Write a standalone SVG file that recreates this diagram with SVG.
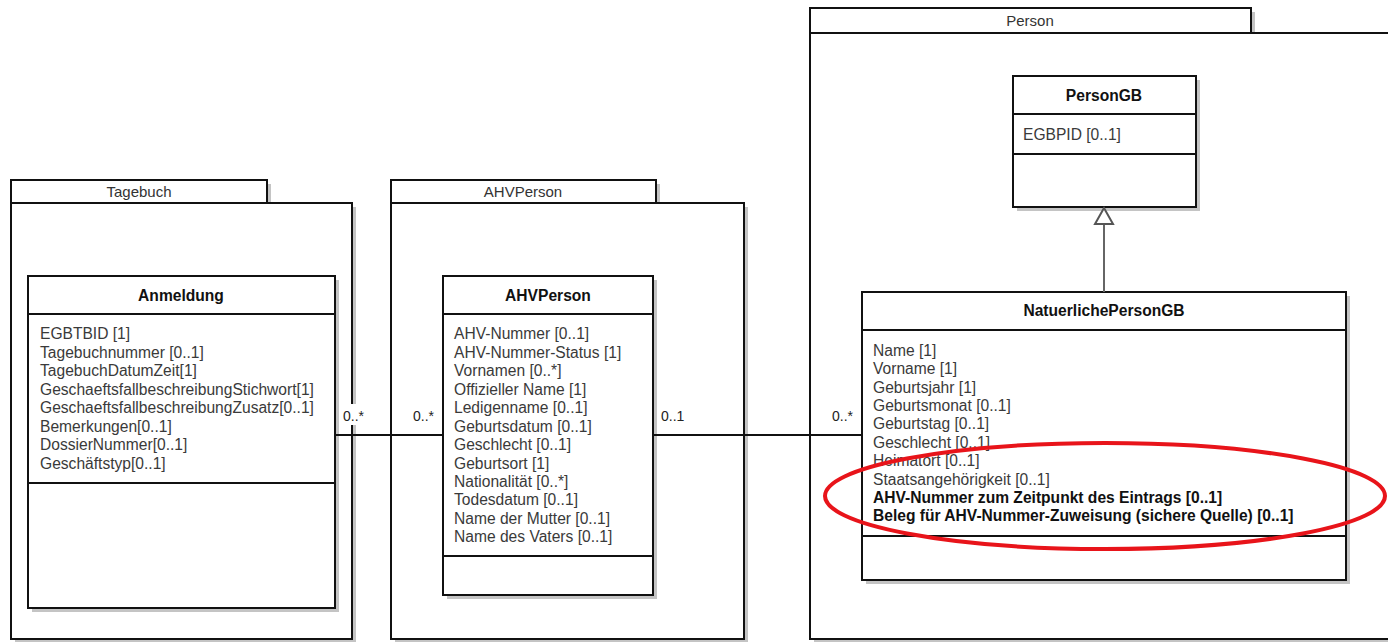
<svg xmlns="http://www.w3.org/2000/svg" width="1388" height="642" viewBox="0 0 1388 642">
<defs>
<style>
.sh{fill:#c4c4c4;stroke:none}
.box{fill:#fff;stroke:#111;stroke-width:2}
.ln{stroke:#111;stroke-width:2;fill:none}
.t{font-family:"Liberation Sans",Arial,sans-serif;font-size:15.6px;fill:#3a3a3a}
.b{font-family:"Liberation Sans",Arial,sans-serif;font-size:15.6px;font-weight:bold;fill:#111}
.pk{font-family:"Liberation Sans",Arial,sans-serif;font-size:15px;fill:#333;text-anchor:middle}
.hd{font-family:"Liberation Sans",Arial,sans-serif;font-size:15.6px;font-weight:bold;fill:#111;text-anchor:middle}
.m{font-family:"Liberation Sans",Arial,sans-serif;font-size:14px;fill:#222}
</style>
</defs>
<rect width="1388" height="642" fill="#fff"/>

<g id="pkg-tagebuch">
<rect class="sh" x="15" y="184" width="256" height="23"/>
<rect class="sh" x="15" y="207" width="341" height="436"/>
<rect class="box" x="11" y="180" width="256" height="23"/>
<rect class="box" x="11" y="203" width="341" height="436"/>
<text class="pk" x="139" y="197">Tagebuch</text>
</g>

<g id="pkg-ahvperson">
<rect class="sh" x="395" y="184" width="265" height="23"/>
<rect class="sh" x="395" y="207" width="353" height="436"/>
<rect class="box" x="391" y="180" width="265" height="23"/>
<rect class="box" x="391" y="203" width="353" height="436"/>
<text class="pk" x="523" y="197">AHVPerson</text>
</g>

<g id="pkg-person">
<rect class="sh" x="814" y="12" width="441" height="25"/>
<rect class="sh" x="814" y="37" width="590" height="606"/>
<rect class="box" x="810" y="8" width="441" height="25"/>
<rect class="box" x="810" y="33" width="590" height="606"/>
<text class="pk" x="1030" y="26">Person</text>
</g>

<g id="class-anmeldung">
<rect class="sh" x="32" y="280" width="307" height="332"/>
<rect class="box" x="28" y="276" width="307" height="332"/>
<line class="ln" x1="28" y1="314" x2="335" y2="314"/>
<line class="ln" x1="28" y1="483" x2="335" y2="483"/>
<text class="hd" x="181" y="301">Anmeldung</text>
<text class="t" x="40" y="339">EGBTBID [1]</text>
<text class="t" x="40" y="358">Tagebuchnummer [0..1]</text>
<text class="t" x="40" y="376">TagebuchDatumZeit[1]</text>
<text class="t" x="40" y="395">GeschaeftsfallbeschreibungStichwort[1]</text>
<text class="t" x="40" y="413">GeschaeftsfallbeschreibungZusatz[0..1]</text>
<text class="t" x="40" y="432">Bemerkungen[0..1]</text>
<text class="t" x="40" y="450">DossierNummer[0..1]</text>
<text class="t" x="40" y="469">Geschäftstyp[0..1]</text>
</g>

<g id="class-ahvperson">
<rect class="sh" x="447" y="280" width="210" height="319"/>
<rect class="box" x="443" y="276" width="210" height="319"/>
<line class="ln" x1="443" y1="314" x2="653" y2="314"/>
<line class="ln" x1="443" y1="556" x2="653" y2="556"/>
<text class="hd" x="548" y="301">AHVPerson</text>
<text class="t" x="454" y="339">AHV-Nummer [0..1]</text>
<text class="t" x="454" y="358">AHV-Nummer-Status [1]</text>
<text class="t" x="454" y="376">Vornamen [0..*]</text>
<text class="t" x="454" y="395">Offizieller Name [1]</text>
<text class="t" x="454" y="413">Ledigenname [0..1]</text>
<text class="t" x="454" y="432">Geburtsdatum [0..1]</text>
<text class="t" x="454" y="450">Geschlecht [0..1]</text>
<text class="t" x="454" y="469">Geburtsort [1]</text>
<text class="t" x="454" y="487">Nationalität [0..*]</text>
<text class="t" x="454" y="505">Todesdatum [0..1]</text>
<text class="t" x="454" y="524">Name der Mutter [0..1]</text>
<text class="t" x="454" y="542">Name des Vaters [0..1]</text>
</g>

<g id="class-persongb">
<rect class="sh" x="1017" y="80" width="183" height="131"/>
<rect class="box" x="1013" y="76" width="183" height="131"/>
<line class="ln" x1="1013" y1="114" x2="1196" y2="114"/>
<line class="ln" x1="1013" y1="154" x2="1196" y2="154"/>
<text class="hd" x="1104" y="101">PersonGB</text>
<text class="t" x="1023" y="140">EGBPID [0..1]</text>
</g>

<g id="class-natuerlichepersongb">
<rect class="sh" x="866" y="296" width="484" height="288"/>
<rect class="box" x="862" y="292" width="484" height="288"/>
<line class="ln" x1="862" y1="330" x2="1346" y2="330"/>
<line class="ln" x1="862" y1="536" x2="1346" y2="536"/>
<text class="hd" x="1104" y="316">NatuerlichePersonGB</text>
<text class="t" x="873" y="356">Name [1]</text>
<text class="t" x="873" y="374">Vorname [1]</text>
<text class="t" x="873" y="393">Geburtsjahr [1]</text>
<text class="t" x="873" y="411">Geburtsmonat [0..1]</text>
<text class="t" x="873" y="429">Geburtstag [0..1]</text>
<text class="t" x="873" y="448">Geschlecht [0..1]</text>
<text class="t" x="873" y="466">Heimatort [0..1]</text>
<text class="t" x="873" y="485">Staatsangehörigkeit [0..1]</text>
<text class="b" x="873" y="503">AHV-Nummer zum Zeitpunkt des Eintrags [0..1]</text>
<text class="b" x="873" y="521">Beleg für AHV-Nummer-Zuweisung (sichere Quelle) [0..1]</text>
</g>

<g id="connectors">
<line class="ln" x1="335" y1="435" x2="443" y2="435"/>
<line class="ln" x1="653" y1="435" x2="862" y2="435"/>
<line x1="1104" y1="224" x2="1104" y2="292" stroke="#666" stroke-width="2"/>
<polygon points="1104,208 1095,224 1113,224" fill="#fff" stroke="#555" stroke-width="2"/>
<rect x="341" y="404" width="29" height="21" fill="#fff"/>
<text class="m" x="343" y="421">0..*</text>
<text class="m" x="413" y="421">0..*</text>
<text class="m" x="661" y="421">0..1</text>
<text class="m" x="832" y="421">0..*</text>
</g>

<ellipse id="highlight" cx="1105" cy="496" rx="280" ry="53" fill="none" stroke="#e8141a" stroke-width="4"/>
</svg>
